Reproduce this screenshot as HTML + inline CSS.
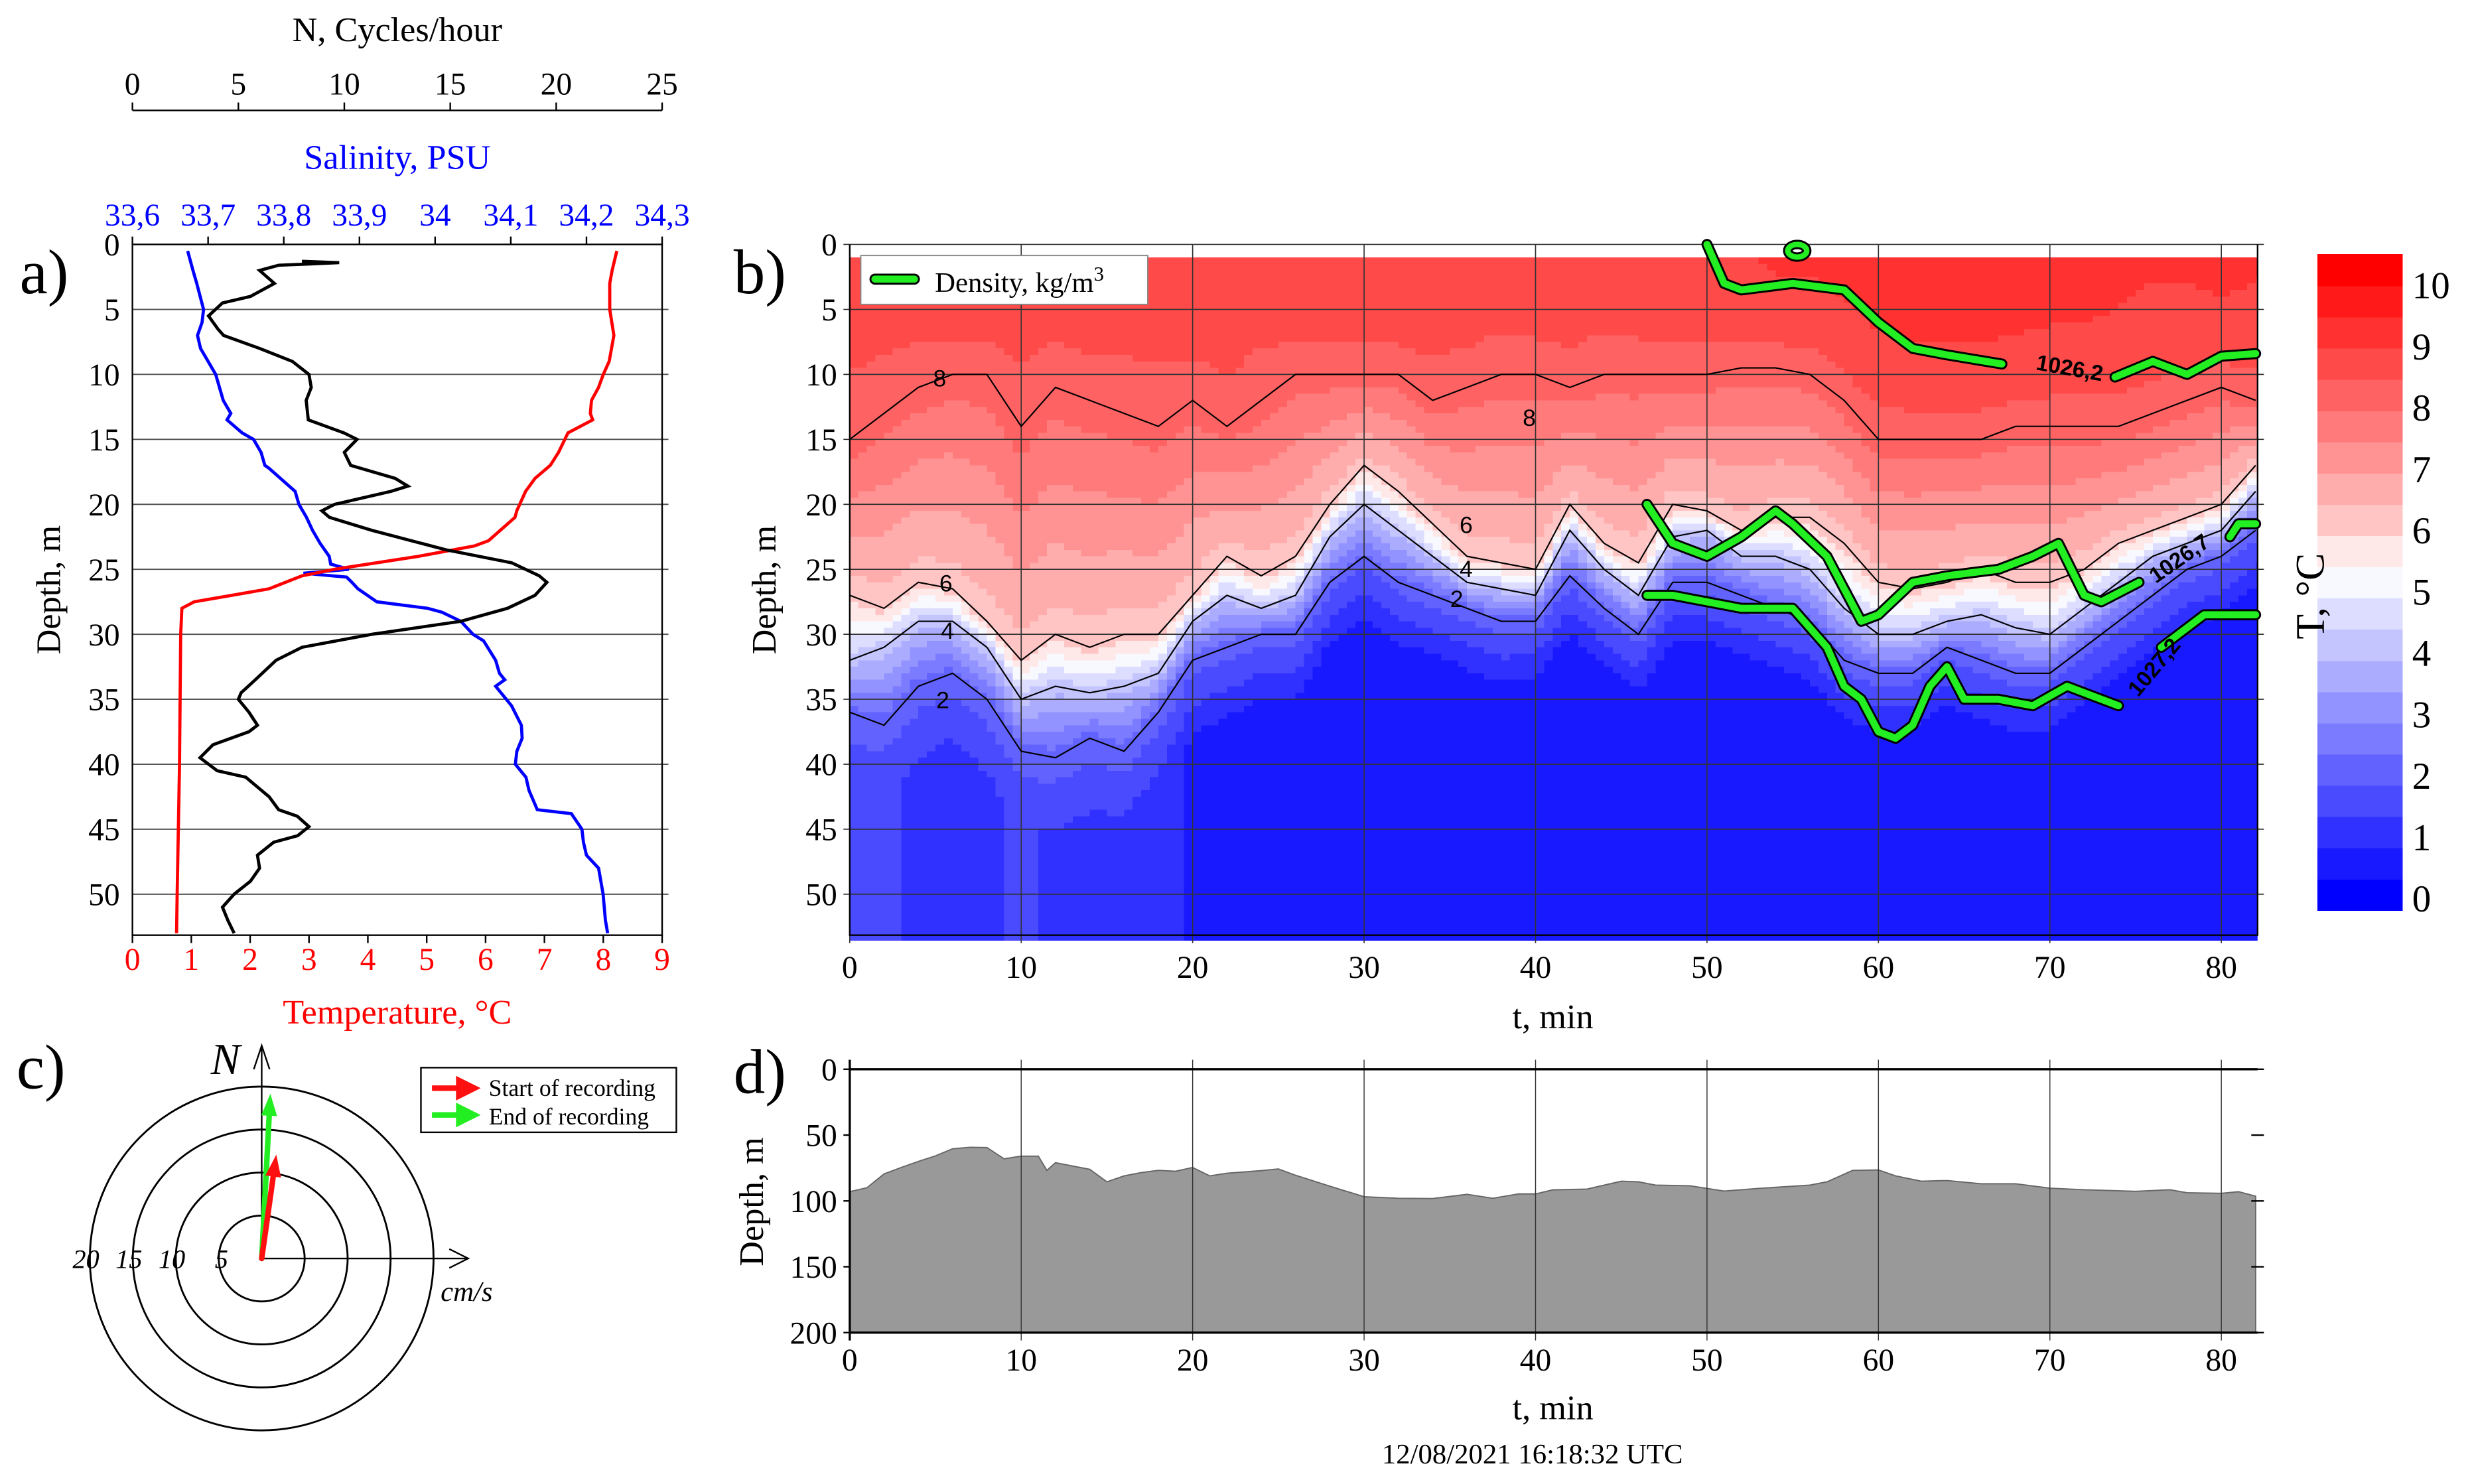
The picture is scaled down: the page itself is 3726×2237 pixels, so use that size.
<!DOCTYPE html>
<html><head><meta charset="utf-8"><title>Ocean profile figure</title>
<style>
html,body{margin:0;padding:0;background:#fff;}
svg{display:block;}
</style></head>
<body>
<svg id="fig" xmlns="http://www.w3.org/2000/svg" width="3726" height="2237" viewBox="0 0 1568 941" preserveAspectRatio="none" font-family="Liberation Serif, serif">
<rect x="0" y="0" width="1568" height="941" fill="#fff"/>
</svg>
<script>
// ===== Panel a data =====
var salDepth = [0.5,2,3,5,6,7,8,10,12,13,13.5,14.5,15,16,17,17.2,19,20,21,22,23,24,24.6,25,25.3,25.6,26,26.5,27.5,28,28.3,29,30,30.5,32,33,33.5,34,35.5,37,38,39,40,41,42,43.5,43.8,45,46,47,48,50,52,53];
var salVal   = [33.673,33.68,33.685,33.694,33.692,33.686,33.69,33.71,33.72,33.73,33.725,33.745,33.76,33.77,33.775,33.78,33.815,33.82,33.83,33.838,33.848,33.86,33.862,33.886,33.826,33.883,33.89,33.898,33.923,33.99,34.009,34.034,34.05,34.064,34.08,34.085,34.092,34.08,34.101,34.114,34.115,34.108,34.106,34.12,34.124,34.135,34.18,34.194,34.196,34.2,34.216,34.222,34.225,34.228];
var tempDepth = [0.5,2,3,5,7,9,10,11,12,13,13.5,14.5,16,17,18,19,20.5,21,22,22.8,23.2,24,25,25.5,26.5,27,27.5,28,30,35,40,45,50,53];
var tempVal   = [8.23,8.15,8.11,8.11,8.18,8.1,8.0,7.92,7.8,7.78,7.82,7.4,7.24,7.1,6.84,6.68,6.53,6.5,6.25,6.05,5.81,4.86,3.43,2.88,2.32,1.69,1.05,0.84,0.82,0.81,0.80,0.78,0.76,0.75];
var nDepth = [1.3,1.4,1.5,1.6,2,3,4,4.5,5.5,6.5,7,8,9,10,11,12,13.5,14.5,15,16,17,18,18.6,19,20,20.5,21,22,23.5,24.5,25.5,26,27,28,29,30,31,32,33.5,34.5,35,36,37,37.5,38.5,39.5,40.5,41,42.5,43.5,44,44.8,45.5,46,47,48,49,50,51,52,53];
var nVal   = [8.0,9.76,8.4,6.9,6.0,6.7,5.57,4.25,3.59,4.03,4.3,6.0,7.55,8.33,8.44,8.2,8.3,9.98,10.6,10.0,10.3,12.4,13.0,12.2,9.54,8.94,9.3,11.3,14.8,17.9,19.2,19.56,19.0,17.7,15.5,11.3,8.0,6.78,5.8,5.13,5.0,5.5,5.9,5.5,3.8,3.19,4.0,5.35,6.45,6.9,7.78,8.33,7.8,6.67,5.9,6.0,5.57,4.8,4.25,4.5,4.8];
var depthTicksA = [0,5,10,15,20,25,30,35,40,45,50];
var tempTicks = [0,1,2,3,4,5,6,7,8,9];
var salTicks = ["33,6","33,7","33,8","33,9","34","34,1","34,2","34,3"];
var salTickVals = [33.6,33.7,33.8,33.9,34.0,34.1,34.2,34.3];
var nTicks = [0,5,10,15,20,25];

// ===== Panel b data =====
var tGrid = [0,2,4,6,8,10,12,14,16,18,20,22,24,26,28,30,32,34,36,38,40,42,44,46,48,50,52,54,56,58,60,62,64,66,68,70,72,74,76,78,80,82];
var iso8 = [15,13,11,10,10,14,11,12,13,14,12,14,12,10,10,10,10,12,11,10,10,11,10,10,10,10,9.5,9.5,10,12,15,15,15,15,14,14,14,14,13,12,11,12];
var iso6 = [27,28,26,26.5,29,32,30,31,30,30,27,24,25.5,24,20,17,19,21.5,24,24.5,25,20,23,24.5,20,20.5,22,21,21,23,26,26.5,26,25,26,26,25,23,22,21,20,17];
var iso4 = [32,31,29,29,31,35,34,34.5,34,33,29,27,28,27,22.5,20,22,24,26,26.5,27,22,25,27,22.5,22,24,24,25,28,30,30,29,28.5,29.5,30,28,26,24,23,22,19];
var iso2 = [36,37,34,33,35,39,39.5,38,39,36,32,31,30,30,26,24,26,27,28,29,29,25.5,28,30,26,26,27,28,29,32,33,33,31,32,33,33,31,29,27,25,24,22];
var surfT = [8.5,8.5,8.5,8.6,8.6,8.5,8.5,8.6,8.5,8.5,8.6,8.6,8.5,8.6,8.6,8.6,8.7,8.6,8.6,8.5,8.6,8.6,8.5,8.6,8.6,8.7,8.7,8.8,8.8,8.9,9.0,9.1,9.1,9.1,9.1,9.0,9.0,8.9,8.8,8.8,8.9,8.8];
var deepT = [1.3,1.3,1.2,1.1,1.2,1.3,1.2,1.2,1.1,1.0,0.7,0.6,0.5,0.5,0.4,0.4,0.4,0.3,0.4,0.4,0.3,0.3,0.3,0.3,0.3,0.3,0.3,0.3,0.3,0.3,0.3,0.3,0.3,0.3,0.3,0.3,0.3,0.3,0.3,0.3,0.3,0.3];
var dens1T = [50,51,52,55,58,60,62,64,67.2];
var dens1D = [0,3,3.5,3,3.5,6,8,8.5,9.2];
var dens1bT = [73.8,76,78,80,82];
var dens1bD = [10.2,9,10,8.6,8.4];
var dens2T = [46.5,48,50,52,54,55,57,59,60,62,64,67,69,70.5,72,73,75.2];
var dens2D = [20,23,24,22.5,20.5,21.5,24,29,28.5,26,25.5,25,24,23,27,27.5,26];
var dens2bT = [80.5,81,82];
var dens2bD = [22.5,21.5,21.5];
var dens3T = [46.5,48,52,55,57,58,59,60,61,62,63,64,65,67,69,71,73,74];
var dens3D = [27,27,28,28,31,34,35,37.5,38,37,34,32.5,35,35,35.5,34,35,35.5];
var dens3bT = [76.5,79,82];
var dens3bD = [31,28.5,28.5];
var timeTicks = [0,10,20,30,40,50,60,70,80];
var depthTicksB = [0,5,10,15,20,25,30,35,40,45,50];
var cbTicks = [0,1,2,3,4,5,6,7,8,9,10];

// ===== Panel c data =====
var ringSpeeds = [5,10,15,20];
var startSpeed = 12.2, startDir = 8;
var endSpeed = 19.2, endDir = 3;

// ===== Panel d data =====
var botT = [0,1,2,3,4,5,6,7,8,9,10,11,11.5,12,13,14,15,16,17,18,19,20,21,22,24,25,26,28,30,32,34,36,37.5,39,40,41,43,45,46,47,49,51,53,56,57,58.5,60,61,62.5,64,66,68,70,72,75,77,78,80,81,82];
var botD = [93,90,79.5,74.6,70,65.8,60.4,59.3,59.5,68,66,66,76.8,71,73.5,76,85.5,81,78.5,76.8,77.5,74.6,81,79,77,75.7,80.5,88.8,96.8,98,98.2,95,98,94.7,94.7,91.6,91,85,85.5,88,88.5,92.5,90.5,88,85.5,76.8,76.5,81,85,84.5,87,87,90.3,91.5,92.7,91.5,93.8,94.2,93,96.4];
var depthTicksD = [0,50,100,150,200];

// ===== helpers =====
var svg = document.getElementById('fig');
var NS = 'http://www.w3.org/2000/svg';
function mk(tag, attrs, parent){ var e=document.createElementNS(NS,tag); for(var k in attrs){e.setAttribute(k,attrs[k]);} (parent||svg).appendChild(e); return e; }
function txt(s, x, y, size, fill, anchor, parent){ var e=mk('text',{x:x,y:y,'font-size':size,fill:fill||'#000','text-anchor':anchor||'middle','font-family':'Liberation Serif, serif'},parent); e.textContent=s; return e; }
function interp(xs, ys, x){ if(x<=xs[0]) return ys[0]; for(var i=1;i<xs.length;i++){ if(x<=xs[i]){ var f=(x-xs[i-1])/(xs[i]-xs[i-1]); return ys[i-1]+f*(ys[i]-ys[i-1]); } } return ys[ys.length-1]; }
function bandColor(i){ i=Math.max(0,Math.min(20,i)); if(i<10){var c=Math.round(i*24.5); return 'rgb('+c+','+c+',255)';} if(i==10) return 'rgb(248,248,255)'; var g=Math.round((20-i)*24.5); if(i==11) g=232; return 'rgb(255,'+g+','+g+')'; }

// ===== Panel a =====
var ax0=84, ax1=420, ay0=155, ayPerM=8.24, ayBot=593;
function aY(d){ return ay0 + d*ayPerM; }
function tX(v){ return ax0 + v*(ax1-ax0)/9; }
function sX(v){ return ax0 + (v-33.6)*(ax1-ax0)/0.7; }
function nX(v){ return ax0 + v*(ax1-ax0)/25; }
var ga = mk('g',{});


for (var i=1;i<depthTicksA.length;i++){
  var gl = mk('line',{x1:ax0,x2:ax1+4,y1:aY(depthTicksA[i]),y2:aY(depthTicksA[i]),stroke:'#555','stroke-width':0.8},ga);
  
  
}
for (var i=0;i<depthTicksA.length;i++){
  var tl = txt(String(depthTicksA[i]), 76, aY(depthTicksA[i])+7, 20, '#000', 'end', ga);
  
  
}
var fr = mk('path',{d:'M'+ax0+' '+ay0+'H'+ax1+'V'+ayBot+'H'+ax0+'Z',fill:'none',stroke:'#000','stroke-width':1},ga);


for (var i=0;i<tempTicks.length;i++){
  var tk = mk('line',{x1:tX(tempTicks[i]),x2:tX(tempTicks[i]),y1:ayBot,y2:ayBot+5,stroke:'#000'},ga);
  
  
  var tl = txt(String(tempTicks[i]), tX(tempTicks[i]), 615, 20, '#f00', 'middle', ga);
  
  
}
for (var i=0;i<salTickVals.length;i++){
  var tk = mk('line',{x1:sX(salTickVals[i]),x2:sX(salTickVals[i]),y1:ay0,y2:ay0-5,stroke:'#000'},ga);
  
  
  var tl = txt(salTicks[i], sX(salTickVals[i]), 143, 20, '#00f', 'middle', ga);
  
  
}
var nl = mk('line',{x1:ax0,x2:ax1,y1:70,y2:70,stroke:'#000'},ga);


for (var i=0;i<nTicks.length;i++){
  var tk = mk('line',{x1:nX(nTicks[i]),x2:nX(nTicks[i]),y1:70,y2:65,stroke:'#000'},ga);
  
  
  var tl = txt(String(nTicks[i]), nX(nTicks[i]), 60, 20, '#000', 'middle', ga);
  
  
}
var t1 = txt('N, Cycles/hour', 252, 26, 22, '#000', 'middle', ga);


var t2 = txt('Salinity, PSU', 252, 107, 22, '#00f', 'middle', ga);


var t3 = txt('Temperature, \u00B0C', 252, 649, 22, '#f00', 'middle', ga);


var t4 = txt('Depth, m', 0, 0, 22, '#000', 'middle', ga);
t4.setAttribute('transform','translate(38,374) rotate(-90)');


var la = txt('a)', 28, 186, 40, '#000', 'middle', ga);


function poly(xs, ys, fx, fy){ var p=''; for(var i=0;i<xs.length;i++){ p+=(i?'L':'M')+fx(xs[i]).toFixed(2)+' '+fy(ys[i]).toFixed(2);} return p; }
var sp = mk('path',{d:poly(salVal,salDepth,sX,aY),fill:'none',stroke:'#00f','stroke-width':2},ga);


var tp = mk('path',{d:poly(tempVal,tempDepth,tX,aY),fill:'none',stroke:'#f00','stroke-width':2},ga);


var np = mk('path',{d:poly(nVal,nDepth,nX,aY),fill:'none',stroke:'#000','stroke-width':2},ga);



// ===== Panel b =====
var bx0=539, bPerMin=10.875, bRight=1432;
function bX(t){ return bx0 + t*bPerMin; }
function bY(d){ return 155 + d*ayPerM; }
var gb = mk('g',{});


var heat = mk('g',{'shape-rendering':'crispEdges'},gb);


var dt=0.5, dz=0.5;
for (var t=0; t<82.1; t+=dt){
  var tc=t+dt/2;
  var d8=interp(tGrid,iso8,tc), d6=interp(tGrid,iso6,tc), d4=interp(tGrid,iso4,tc), d2=interp(tGrid,iso2,tc), ts=interp(tGrid,surfT,tc), tb=interp(tGrid,deepT,tc);
  for (var z=1; z<53.2; z+=dz){
    var zc=z+dz/2, T;
    if (zc<=d8) T = ts + (8-ts)*Math.pow((zc-1)/(d8-1),1.5);
    else if (zc<=d6) T = 8 - 2*(zc-d8)/(d6-d8);
    else if (zc<=d4) T = 6 - 2*(zc-d6)/(d4-d6);
    else if (zc<=d2) T = 4 - 2*(zc-d4)/(d2-d4);
    else T = Math.max(tb, 2 - (2-tb)*(zc-d2)/6);
    var cell = mk('rect',{x:bX(t).toFixed(2),y:bY(z).toFixed(2),width:(dt*bPerMin+0.6).toFixed(2),height:(dz*ayPerM+0.6).toFixed(2),fill:bandColor(Math.round(T*2))},heat);
    
    
  }
}
var clip = mk('rect',{x:bRight,y:150,width:40,height:450,fill:'#fff'},gb);


for (var i=0;i<depthTicksB.length;i++){
  var gl = mk('line',{x1:bx0-4,x2:bRight+4,y1:bY(depthTicksB[i]),y2:bY(depthTicksB[i]),stroke:'#333','stroke-width':0.7},gb);
  
  
  var tl = txt(String(depthTicksB[i]), 531, bY(depthTicksB[i])+7, 20, '#000', 'end', gb);
  
  
}
for (var i=0;i<timeTicks.length;i++){
  var gl = mk('line',{x1:bX(timeTicks[i]),x2:bX(timeTicks[i]),y1:155,y2:598,stroke:'#333','stroke-width':0.7},gb);
  
  
  var tl = txt(String(timeTicks[i]), bX(timeTicks[i]), 620, 20, '#000', 'middle', gb);
  
  
}
var fb = mk('path',{d:'M'+bx0+' 155V593H'+bRight+'V155',fill:'none',stroke:'#000','stroke-width':1},gb);


var isoSets=[iso8,iso6,iso4,iso2];
var isoNames=['isotherm-8','isotherm-6','isotherm-4','isotherm-2'];
for (var k=0;k<isoSets.length;k++){
  var ip = mk('path',{d:poly(tGrid,isoSets[k],bX,bY),fill:'none',stroke:'#000','stroke-width':0.9},gb);
  
  
}
var clabs=[['8',596,245],['8',970,270],['6',600,375],['6',930,338],['4',601,405],['4',930,366],['2',598,449],['2',924,385]];
for (var i=0;i<clabs.length;i++){
  var cl = txt(clabs[i][0], clabs[i][1], clabs[i][2], 15, '#000', 'middle', gb);
  cl.setAttribute('font-family','Liberation Sans, sans-serif');
  
  
}
var densSets=[[dens1T,dens1D],[dens1bT,dens1bD],[dens2T,dens2D],[dens2bT,dens2bD],[dens3T,dens3D],[dens3bT,dens3bD]];
for (var k=0;k<densSets.length;k++){
  var dpb = mk('path',{d:poly(densSets[k][0],densSets[k][1],bX,bY),fill:'none',stroke:'#000','stroke-width':7,'stroke-linejoin':'round','stroke-linecap':'round'},gb);
  
  
  var dp = mk('path',{d:poly(densSets[k][0],densSets[k][1],bX,bY),fill:'none',stroke:'#22ee22','stroke-width':4.5,'stroke-linejoin':'round','stroke-linecap':'round'},gb);
  
  
}
var loop = mk('ellipse',{cx:1140,cy:159,rx:6,ry:4,fill:'none',stroke:'#000','stroke-width':6},gb);


var loop2 = mk('ellipse',{cx:1140,cy:159,rx:6,ry:4,fill:'none',stroke:'#22ee22','stroke-width':3.5},gb);


var dl=[['1026,2',1312,238,10],['1026,7',1385,358,-35],['1027,2',1370,426,-50]];
for (var i=0;i<dl.length;i++){
  var e = txt(dl[i][0], 0, 0, 14, '#000', 'middle', gb);
  e.setAttribute('font-family','Liberation Sans, sans-serif');
  e.setAttribute('font-weight','bold');
  e.setAttribute('transform','translate('+dl[i][1]+','+dl[i][2]+') rotate('+dl[i][3]+')');
  
  
}
var lg = mk('rect',{x:546,y:162,width:182,height:31,fill:'#fff',stroke:'#888','stroke-width':0.8},gb);


var lgl = mk('line',{x1:555,x2:580,y1:177,y2:177,stroke:'#000','stroke-width':7,'stroke-linecap':'round'},gb);


var lgl2 = mk('line',{x1:555,x2:580,y1:177,y2:177,stroke:'#22ee22','stroke-width':4.5,'stroke-linecap':'round'},gb);


var lgt = txt('Density, kg/m', 593, 185, 18, '#000', 'start', gb);
var sup = document.createElementNS(NS,'tspan');
sup.setAttribute('dy','-7');
sup.setAttribute('font-size','13');
sup.textContent='3';
lgt.appendChild(sup);


var tb1 = txt('t, min', 985, 652, 22, '#000', 'middle', gb);


var tb2 = txt('Depth, m', 0, 0, 22, '#000', 'middle', gb);
tb2.setAttribute('transform','translate(492,374) rotate(-90)');


var lb = txt('b)', 482, 186, 40, '#000', 'middle', gb);


// colorbar
var cb = mk('g',{'shape-rendering':'crispEdges'});


for (var i=0;i<=20;i++){
  var r = mk('rect',{x:1470,y:(577-(i+1)*19.8).toFixed(2),width:54,height:20.3,fill:bandColor(i)},cb);
  
  
}
for (var i=0;i<cbTicks.length;i++){
  var tl = txt(String(cbTicks[i]), 1530, 577 - cbTicks[i]*38.9 + 1, 24, '#000', 'start', cb);
  
  
}
var cbt = txt('T, \u00B0C', 0, 0, 26, '#000', 'middle');
cbt.setAttribute('transform','translate(1474,378) rotate(-90)');



// ===== Panel c =====
var cx=166, cy=798, rPer=5.45;
var gc = mk('g',{});


for (var i=0;i<ringSpeeds.length;i++){
  var c = mk('circle',{cx:cx,cy:cy,r:ringSpeeds[i]*rPer,fill:'none',stroke:'#000','stroke-width':1.2},gc);
  
  
  var rl = txt(String(ringSpeeds[i]), cx - ringSpeeds[i]*rPer + 6, cy+6, 17, '#000', 'end', gc);
  rl.setAttribute('font-style','italic');
  
  
}
var va = mk('path',{d:'M'+cx+' '+cy+'V663M'+(cx-5)+' 678L'+cx+' 663L'+(cx+5)+' 678',fill:'none',stroke:'#000','stroke-width':1},gc);


var ha = mk('path',{d:'M'+cx+' '+cy+'H297M285 792L297 798L285 804',fill:'none',stroke:'#000','stroke-width':1},gc);


var nlab = txt('N', 143, 681, 28, '#000', 'middle', gc);
nlab.setAttribute('font-style','italic');


var cms = txt('cm/s', 296, 825, 18, '#000', 'middle', gc);
cms.setAttribute('font-style','italic');


function arrow(speed, dirDeg, color, name){
  var a=dirDeg*Math.PI/180, L=speed*rPer;
  var ex=cx+L*Math.sin(a), ey=cy-L*Math.cos(a);
  var ux=Math.sin(a), uy=-Math.cos(a), px=-uy, py=ux;
  var bxp=ex-ux*14, byp=ey-uy*14;
  var s = mk('line',{x1:cx,y1:cy,x2:bxp,y2:byp,stroke:color,'stroke-width':3.5,'stroke-linecap':'round'},gc);
  
  
  var h = mk('path',{d:'M'+ex+' '+ey+'L'+(bxp+px*5)+' '+(byp+py*5)+'L'+(bxp-px*5)+' '+(byp-py*5)+'Z',fill:color},gc);
  
  
}
arrow(endSpeed, endDir, '#22ee22', 'end-current-arrow');
arrow(startSpeed, startDir, '#ff1010', 'start-current-arrow');
var lgc = mk('rect',{x:267,y:677,width:162,height:41,fill:'#fff',stroke:'#000','stroke-width':1},gc);


var la1 = mk('path',{d:'M274 690H294M291 685L301 690L291 695Z',stroke:'#ff1010','stroke-width':3.5,fill:'#ff1010'},gc);


var la2 = mk('path',{d:'M274 707H294M291 702L301 707L291 712Z',stroke:'#22ee22','stroke-width':3.5,fill:'#22ee22'},gc);


var lt1 = txt('Start of recording', 310, 695, 15, '#000', 'start', gc);


var lt2 = txt('End of recording', 310, 713, 15, '#000', 'start', gc);


var lc = txt('c)', 26, 690, 40, '#000', 'middle', gc);



// ===== Panel d =====
var dy0=678, dPer=(845-678)/200;
function dY(d){ return dy0 + d*dPer; }
var gd = mk('g',{});


var ap = 'M'+bX(botT[0])+' '+dY(200);
for (var i=0;i<botT.length;i++){ ap += 'L'+bX(botT[i]).toFixed(2)+' '+dY(botD[i]).toFixed(2); }
ap += 'L'+bX(botT[botT.length-1])+' '+dY(200)+'Z';
var area = mk('path',{d:ap,fill:'#999',stroke:'#666','stroke-width':0.8},gd);


for (var i=0;i<timeTicks.length;i++){
  var gl = mk('line',{x1:bX(timeTicks[i]),x2:bX(timeTicks[i]),y1:672,y2:850,stroke:'#333','stroke-width':0.6},gd);
  
  
  var tl = txt(String(timeTicks[i]), bX(timeTicks[i]), 869, 20, '#000', 'middle', gd);
  
  
}
for (var i=0;i<depthTicksD.length;i++){
  var tk = mk('line',{x1:bx0-4,x2:bx0,y1:dY(depthTicksD[i]),y2:dY(depthTicksD[i]),stroke:'#000'},gd);
  
  
  var tk2 = mk('line',{x1:bRight-4,x2:bRight+4,y1:dY(depthTicksD[i]),y2:dY(depthTicksD[i]),stroke:'#000'},gd);
  
  
  var tl = txt(String(depthTicksD[i]), 531, dY(depthTicksD[i])+7, 20, '#000', 'end', gd);
  
  
}
var fd = mk('path',{d:'M'+bx0+' '+dY(0)+'H'+bRight+'M'+bx0+' '+dY(200)+'H'+bRight+'M'+bx0+' 672V850',fill:'none',stroke:'#000','stroke-width':1.4},gd);


var td1 = txt('t, min', 985, 900, 22, '#000', 'middle', gd);


var td2 = txt('Depth, m', 0, 0, 22, '#000', 'middle', gd);
td2.setAttribute('transform','translate(484,762) rotate(-90)');


var ts = txt('12/08/2021 16:18:32 UTC', 972, 928, 18, '#000', 'middle', gd);


var ld = txt('d)', 482, 693, 40, '#000', 'middle', gd);


</script>
</body></html>
